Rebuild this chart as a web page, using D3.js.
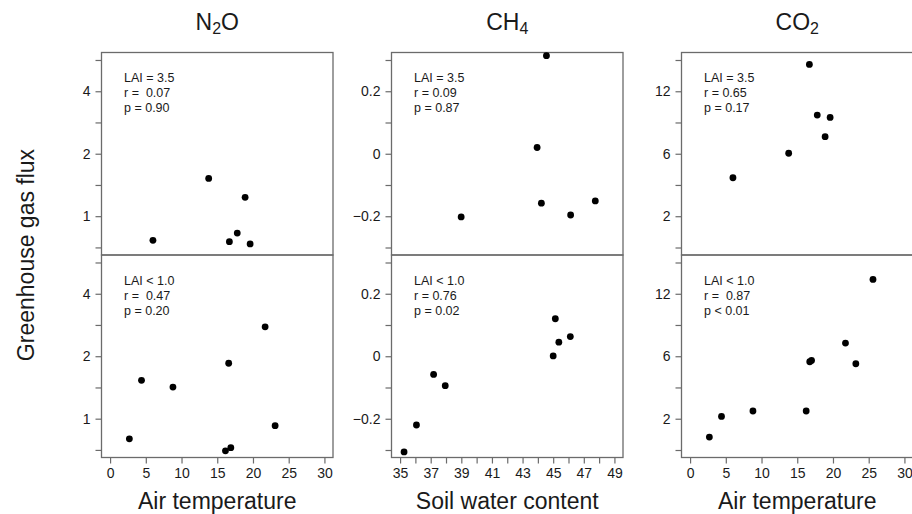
<!DOCTYPE html>
<html>
<head>
<meta charset="utf-8">
<script src="https://cdn.jsdelivr.net/npm/d3@7"></script>
<style>
  body { margin: 0; background: #fff; }
  text { font-family: "Liberation Sans", Arial, sans-serif; fill: #1a1a1a; }
</style>
</head>
<body>
<div id="chart"></div>
<script>
// ---- data ----
// upper row: LAI = 3.5, lower row: LAI < 1.0
var n2oTempHigh = [6.0, 13.8, 16.7, 17.8, 18.9, 19.6];
var n2oFluxHigh = [0.765, 1.52, 0.754, 0.829, 1.233, 0.735];
var n2oTempLow  = [2.7, 4.4, 8.8, 16.15, 16.6, 16.9, 21.7, 23.1];
var n2oFluxLow  = [0.80, 1.53, 1.42, 0.70, 1.85, 0.725, 2.77, 0.925];

var ch4SoilHigh = [38.99, 43.95, 44.23, 44.56, 46.14, 47.75];
var ch4FluxHigh = [-0.202, 0.020, -0.158, 0.314, -0.196, -0.151];
var ch4SoilLow  = [35.26, 36.07, 37.19, 37.95, 45.0, 45.14, 45.37, 46.12];
var ch4FluxLow  = [-0.306, -0.220, -0.058, -0.094, 0.001, 0.120, 0.045, 0.063];

var co2TempHigh = [6.0, 13.8, 16.7, 17.8, 18.9, 19.6];
var co2FluxHigh = [4.27, 6.04, 15.43, 9.42, 7.41, 9.19];
var co2TempLow  = [2.7, 4.4, 8.8, 16.25, 16.75, 17.0, 21.75, 23.2, 25.6];
var co2FluxLow  = [1.10, 2.12, 2.41, 2.41, 5.58, 5.68, 7.07, 5.43, 13.75];

var n2oNotes = [["LAI = 3.5", "r =  0.07", "p = 0.90"], ["LAI < 1.0", "r =  0.47", "p = 0.20"]];
var ch4Notes = [["LAI = 3.5", "r = 0.09", "p = 0.87"], ["LAI < 1.0", "r = 0.76", "p = 0.02"]];
var co2Notes = [["LAI = 3.5", "r = 0.65", "p = 0.17"], ["LAI < 1.0", "r =  0.87", "p < 0.01"]];

// axis ticks and limits
var n2oTicks = [1, 2, 4], n2oMinor = [0.707, 1.414, 2.83, 5.66];
var ch4Ticks = [-0.2, 0, 0.2], ch4Minor = [-0.3, -0.1, 0.1, 0.3];
var ch4Labels = ["\u22120.2", "0", "0.2"];
var co2Ticks = [2, 6, 12], co2Minor = [0.53, 3.8, 8.7, 16.05];
var n2oLim = [0.65, 6.15], ch4Lim = [-0.324, 0.324], co2Lim = [0.22, 17.15];

var tempTicks = [0, 5, 10, 15, 20, 25, 30];
var soilTicks = [35, 36, 37, 38, 39, 40, 41, 42, 43, 44, 45, 46, 47, 48, 49];
var tempLim = [-1.2, 31.2], soilLim = [34.44, 49.56];

// ---- layout ----
var W = 912, H = 514;
var colLeft = [101.5, 391.5, 681.5],
    plotW = 231.5,
    plotTop = 52.5,
    rowH = 202.5;
var lineColor = "#6b6b6b";

var svg = d3.select("#chart").append("svg")
    .attr("width", W)
    .attr("height", H);

var columns = [
  { title: ["N", "2", "O"], xlabel: "Air temperature",
    y: function() { return d3.scaleLog().base(2).domain(n2oLim); },
    major: n2oTicks, minor: n2oMinor, fmt: function(d) { return String(d); },
    xLim: tempLim, xTicks: tempTicks, xFmt: function(d) { return d; },
    rows: [{x: n2oTempHigh, y: n2oFluxHigh, notes: n2oNotes[0]},
           {x: n2oTempLow, y: n2oFluxLow, notes: n2oNotes[1]}] },
  { title: ["CH", "4", ""], xlabel: "Soil water content",
    y: function() { return d3.scaleLinear().domain(ch4Lim); },
    major: ch4Ticks, minor: ch4Minor, fmt: function(d) { return ch4Labels[ch4Ticks.indexOf(d)]; },
    xLim: soilLim, xTicks: soilTicks, xFmt: function(d) { return d % 2 ? d : ""; },
    rows: [{x: ch4SoilHigh, y: ch4FluxHigh, notes: ch4Notes[0]},
           {x: ch4SoilLow, y: ch4FluxLow, notes: ch4Notes[1]}] },
  { title: ["CO", "2", ""], xlabel: "Air temperature",
    y: function() { return d3.scaleSymlog().constant(6).domain(co2Lim); },
    major: co2Ticks, minor: co2Minor, fmt: function(d) { return String(d); },
    xLim: tempLim, xTicks: tempTicks, xFmt: function(d) { return d; },
    rows: [{x: co2TempHigh, y: co2FluxHigh, notes: co2Notes[0]},
           {x: co2TempLow, y: co2FluxLow, notes: co2Notes[1]}] }
];

columns.forEach(function(col, c) {
  var left = colLeft[c];

  // gas name over the column
  var t = svg.append("text")
      .attr("x", left + plotW / 2)
      .attr("y", 30)
      .attr("text-anchor", "middle")
      .style("font-size", "23px");
  t.append("tspan").text(col.title[0]);
  t.append("tspan").text(col.title[1]).style("font-size", "16px").attr("dy", 4);
  if (col.title[2]) t.append("tspan").text(col.title[2]).attr("dy", -4);

  var x = d3.scaleLinear().domain(col.xLim).range([0, plotW]);

  col.rows.forEach(function(row, r) {
    var y = col.y().range([rowH, 0]);
    var g = svg.append("g")
        .attr("transform", "translate(" + left + "," + (plotTop + r * rowH) + ")");

    // y axis, labelled + unlabelled ticks
    var yAxis = g.append("g")
        .call(d3.axisLeft(y)
          .tickValues(col.major.concat(col.minor))
          .tickSize(6)
          .tickPadding(5)
          .tickFormat(function(d) { return col.major.indexOf(d) >= 0 ? col.fmt(d) : ""; }));
    yAxis.select(".domain").remove();
    yAxis.selectAll("line").attr("stroke", lineColor).attr("stroke-width", 1.2);
    yAxis.selectAll("text").style("font-size", "14px").attr("fill", "#1a1a1a")
        .style("font-family", "'Liberation Sans', Arial, sans-serif");

    if (r === 1) {
      var xAxis = g.append("g")
          .attr("transform", "translate(0," + rowH + ")")
          .call(d3.axisBottom(x)
            .tickValues(col.xTicks)
            .tickSize(6)
            .tickPadding(5)
            .tickFormat(col.xFmt));
      xAxis.select(".domain").remove();
      xAxis.selectAll("line").attr("stroke", lineColor).attr("stroke-width", 1.2);
      xAxis.selectAll("text").style("font-size", "14px").attr("fill", "#1a1a1a")
          .style("font-family", "'Liberation Sans', Arial, sans-serif");
    }

    // frame
    g.append("rect")
        .attr("width", plotW)
        .attr("height", rowH)
        .attr("fill", "none")
        .attr("stroke", lineColor)
        .attr("stroke-width", 1.3);

    // points
    g.selectAll(".pt")
        .data(row.x.map(function(v, i) { return {x: v, y: row.y[i]}; }))
      .enter().append("circle")
        .attr("class", "pt")
        .attr("cx", function(d) { return x(d.x); })
        .attr("cy", function(d) { return y(d.y); })
        .attr("r", 3.4)
        .attr("fill", "#000");

    // LAI / r / p notes
    g.selectAll(".note")
        .data(row.notes)
      .enter().append("text")
        .attr("class", "note")
        .attr("x", 22.5)
        .attr("y", function(d, i) { return 29.5 + i * 15; })
        .attr("xml:space", "preserve")
        .style("white-space", "pre")
        .style("font-size", "12.5px")
        .text(function(d) { return d; });
  });

  // x axis title
  svg.append("text")
      .attr("x", left + plotW / 2)
      .attr("y", 509)
      .attr("text-anchor", "middle")
      .style("font-size", "23px")
      .text(col.xlabel);
});

svg.append("text")
    .attr("transform", "translate(34," + (plotTop + rowH) + ") rotate(-90)")
    .attr("text-anchor", "middle")
    .style("font-size", "23px")
    .text("Greenhouse gas flux");
</script>
</body>
</html>
